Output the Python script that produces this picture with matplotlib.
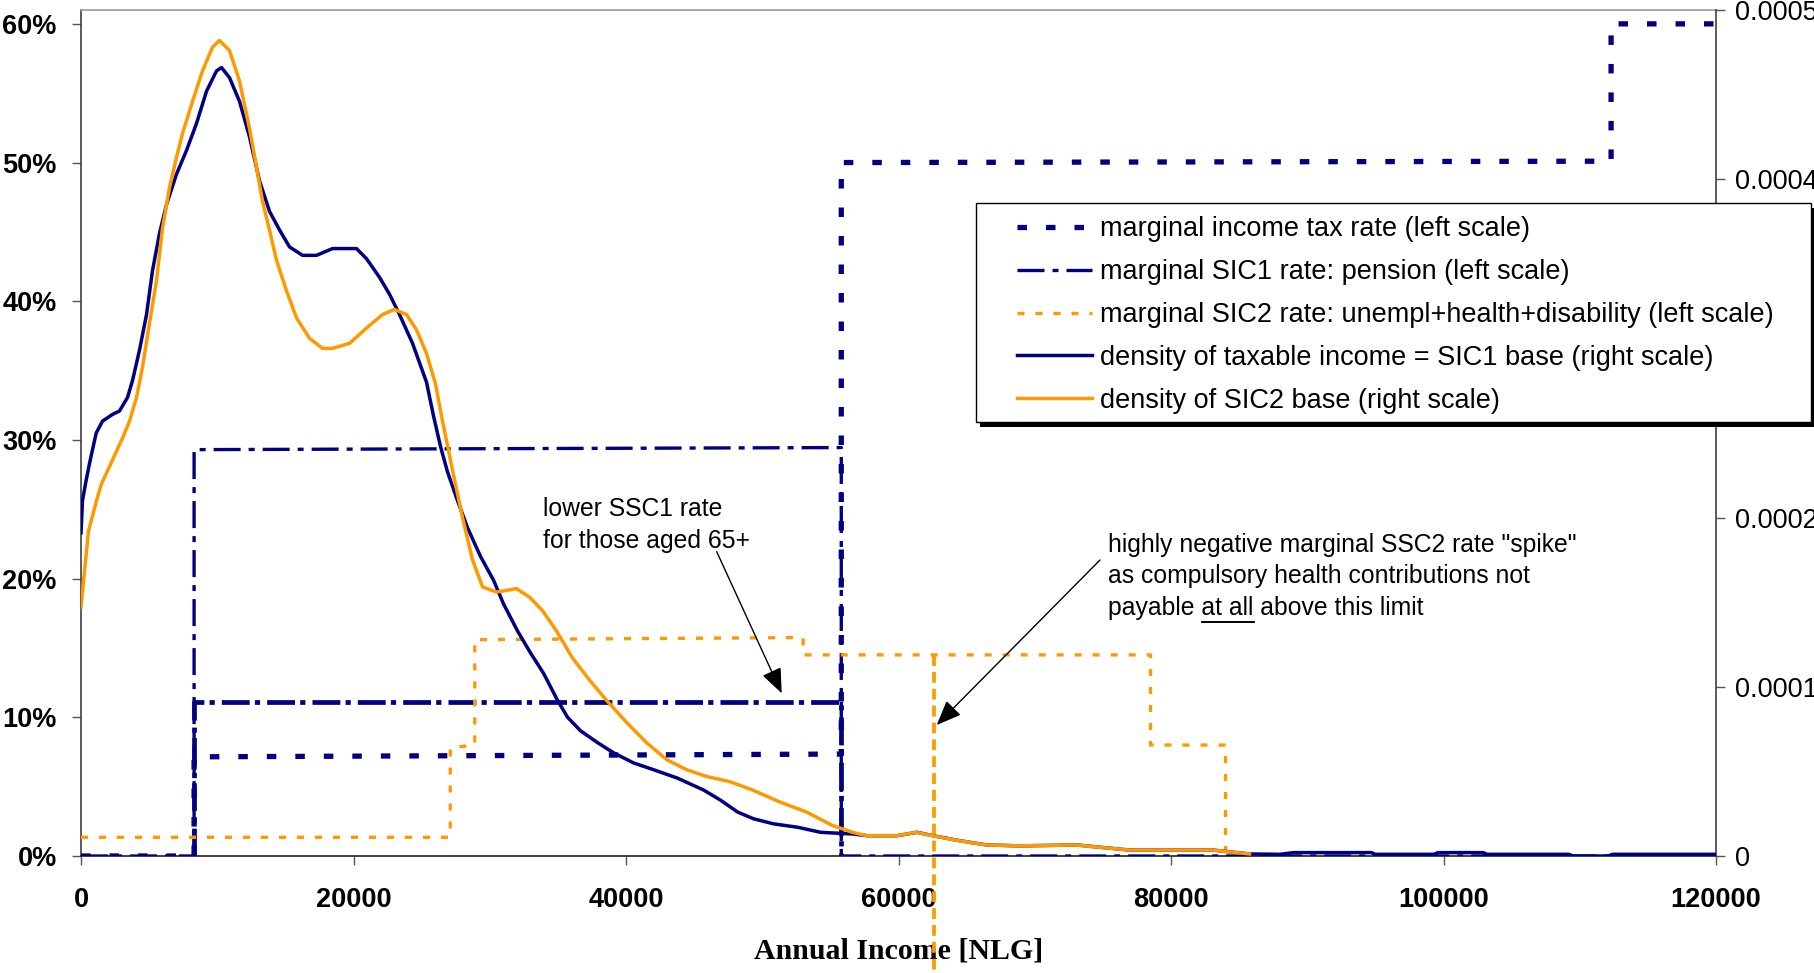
import numpy as np
import matplotlib
matplotlib.use("Agg")
import matplotlib.pyplot as plt
from matplotlib.patches import Rectangle
from matplotlib.lines import Line2D
from matplotlib.ticker import FuncFormatter

plt.rcParams['font.family'] = ['Liberation Sans', 'DejaVu Sans']

# ---------------- data ----------------
# marginal rates (left scale, %)
tax_x = [0, 8300, 8300, 55800, 55800, 112300, 112300, 120000]
tax_y = [0, 0, 7.15, 7.35, 50.0, 50.1, 60.0, 60.0]

sic1_x = [0, 8300, 8300, 55800, 55800, 120000]
sic1_y = [0, 0, 29.3, 29.45, 0, 0]

sic1_65_x = [8300, 8300, 55800, 55800]
sic1_65_y = [0, 11.1, 11.1, 0]

sic2_x = [0, 27100, 27100, 28900, 28900, 53000, 53000, 62640, 62640, 62640,
          78500, 78500, 84000, 84000]
sic2_y = [1.35, 1.35, 7.8, 8.0, 15.6, 15.75, 14.5, 14.5, -100, 14.5,
          14.5, 8.0, 8.0, 0]

# densities (right scale, in units of 1e-4)
dens1_x = [0, 110, 330, 624, 1115, 1578, 2312, 2826, 3413, 3780, 4294, 4808,
           5248, 5762, 6276, 7010, 7744, 8478, 9212, 9946, 10313, 10900, 11634,
           12368, 13102, 13836, 14570, 15304, 16258, 17286, 18460, 19488, 20222,
           20956, 21910, 22644, 23378, 24332, 25360, 25874, 26388, 26901, 27635,
           28369, 29323, 30277, 31011, 32039, 32993, 33947, 34975, 35709, 36663,
           37911, 39085, 40553, 42021, 43783, 45691, 46939, 48187, 49361, 50829,
           52590, 54279, 56663, 57691, 59893, 61361, 62535, 64517, 66499, 68921,
           73105, 75013, 76995, 83087, 84335, 85803, 88000, 89000, 94700, 95000,
           99300, 99600, 102900, 103200, 109200, 109500, 112100, 112400, 120000]
dens1_y = [1.91, 2.10, 2.20, 2.32, 2.50, 2.57, 2.61, 2.63, 2.71, 2.81, 2.99, 3.20,
           3.46, 3.68, 3.85, 4.03, 4.17, 4.33, 4.52, 4.64, 4.66, 4.60, 4.46,
           4.25, 3.99, 3.81, 3.70, 3.60, 3.55, 3.55, 3.59, 3.59, 3.59,
           3.53, 3.42, 3.32, 3.20, 3.03, 2.80, 2.60, 2.42, 2.27, 2.10,
           1.94, 1.77, 1.63, 1.49, 1.33, 1.20, 1.08, 0.92, 0.82, 0.74,
           0.67, 0.61, 0.55, 0.51, 0.46, 0.39, 0.33, 0.26, 0.22, 0.19,
           0.17, 0.14, 0.13, 0.12, 0.12, 0.14, 0.12, 0.09, 0.065, 0.06,
           0.065, 0.05, 0.035, 0.035, 0.024, 0.012, 0.01, 0.02, 0.02, 0.01,
           0.01, 0.02, 0.02, 0.01, 0.01, 0.0, 0.0, 0.01, 0.01]

dens2_x = [0, 550, 1138, 1505, 2312, 3046, 3560, 4074, 4514, 5028, 5542, 5982,
           6496, 7010, 7450, 8184, 8918, 9652, 10166, 10900, 11634, 12368, 12882,
           13322, 13836, 14350, 15084, 15818, 16772, 17726, 18460, 19708, 20956,
           22130, 23011, 23892, 24626, 25360, 26020, 26534, 27268, 28002, 28736,
           29470, 30497, 31965, 32919, 33873, 34901, 36075, 37323, 38571, 40039,
           41507, 42975, 44443, 45911, 47599, 49287, 51269, 53251, 55160, 56627,
           57655, 59857, 61325, 62499, 64481, 66463, 68885, 73069, 74977, 76959,
           83051, 84299, 85767]
dens2_y = [1.47, 1.92, 2.10, 2.20, 2.34, 2.47, 2.57, 2.71, 2.89, 3.15, 3.40, 3.71,
           3.95, 4.13, 4.27, 4.46, 4.64, 4.78, 4.82, 4.76, 4.58, 4.30, 4.07,
           3.87, 3.70, 3.52, 3.34, 3.18, 3.06, 3.00, 3.00, 3.03, 3.12,
           3.20, 3.23, 3.20, 3.11, 2.97, 2.79, 2.57, 2.28, 2.00, 1.75,
           1.59, 1.56, 1.58, 1.53, 1.45, 1.33, 1.17, 1.04, 0.92, 0.79,
           0.67, 0.57, 0.51, 0.47, 0.44, 0.39, 0.32, 0.26, 0.18, 0.14,
           0.12, 0.12, 0.14, 0.12, 0.09, 0.065, 0.06, 0.065, 0.05, 0.035,
           0.035, 0.024, 0.012]

x_ticks = [0, 20000, 40000, 60000, 80000, 100000, 120000]
left_ticks = [0, 10, 20, 30, 40, 50, 60]
right_ticks = [0, 0.0001, 0.0002, 0.0003, 0.0004, 0.0005]
right_labels = ['0', '0.0001', '0.0002', '0.0003', '0.0004', '0.0005']

labels = ['marginal income tax rate (left scale)',
          'marginal SIC1 rate: pension (left scale)',
          'marginal SIC2 rate: unempl+health+disability (left scale)',
          'density of taxable income = SIC1 base (right scale)',
          'density of SIC2 base (right scale)']

# ---------------- style ----------------
NAVY = '#000080'
ORANGE = '#FF9900'
W, H = 1814, 973
tax_ls = (0, (1.8, 3.6))
sic1_ls = (0, (8.1, 2.4, 1.8, 2.4))
sic1b_ls = (0, (5.9, 1.1, 1.1, 1.5))
sic2_ls = (0, (2.1, 3.3))
spike_ls = (0, (2.9, 1.6))

fig = plt.figure(figsize=(W / 100, H / 100), dpi=100)
ax_l, ax_r, ax_t, ax_b = 81, 1716, 10, 856
ax = fig.add_axes([ax_l / W, 1 - ax_b / H, (ax_r - ax_l) / W, (ax_b - ax_t) / H])
ax2 = ax.twinx()

ax.set_xlim(0, 120000)
ax.set_ylim(0, 61.0)
ax2.set_ylim(0, 0.0005)

ax.plot(tax_x, tax_y, color=NAVY, lw=3.8, ls=tax_ls, zorder=3)
ax.plot(sic1_x, sic1_y, color=NAVY, lw=2.4, ls=sic1_ls, zorder=3)
ax.plot(sic1_65_x, sic1_65_y, color=NAVY, lw=3.4, ls=sic1b_ls, zorder=3)

# SIC2: the step line, with the negative "spike" drawn as its own segment
k = int(np.argmin(sic2_y))
main_x = sic2_x[:k] + sic2_x[k + 1:]
main_y = sic2_y[:k] + sic2_y[k + 1:]
ax.plot(main_x, main_y, color=ORANGE, lw=2.4, ls=sic2_ls, zorder=3)
ax.plot(sic2_x[k - 1:k + 1], sic2_y[k - 1:k + 1], color=ORANGE, lw=2.7,
        ls=spike_ls, zorder=3, clip_on=False)

ax2.plot(dens1_x, np.array(dens1_y) * 1e-4, color=NAVY, lw=2.5, zorder=3)
ax2.plot(dens2_x, np.array(dens2_y) * 1e-4, color=ORANGE, lw=2.5, zorder=3)

# ticks
ax.set_xticks(x_ticks)
ax.set_xticklabels([str(v) for v in x_ticks])
ax.set_yticks(left_ticks)
ax.yaxis.set_major_formatter(FuncFormatter(lambda v, p: f"{v:.0f}%"))
ax2.set_yticks(right_ticks)
ax2.set_yticklabels(right_labels)

ax.tick_params(axis='x', direction='out', length=6.5, width=1, color='#555555',
               labelsize=19.5, pad=16)
ax.tick_params(axis='y', direction='out', length=6.5, width=1, color='#555555',
               labelsize=19.5, pad=11)
ax2.tick_params(axis='y', direction='out', length=6.5, width=1, color='#555555',
                labelsize=19.5, pad=7)
for t in ax.get_xticklabels() + ax.get_yticklabels():
    t.set_fontweight('bold')

for s in ['left', 'top', 'bottom', 'right']:
    ax2.spines[s].set_visible(False)
ax.spines['right'].set_visible(False)
ax2.spines['right'].set_visible(True)
ax2.spines['right'].set_color('#404040')
ax.spines['left'].set_color('#404040')
ax.spines['bottom'].set_color('#202020')
ax.spines['top'].set_color('#999999')
for s in ax.spines.values():
    s.set_linewidth(1.2)
ax2.spines['right'].set_linewidth(1.2)

# x label
ax.set_xlabel('Annual Income [NLG]', family='Liberation Serif', fontweight='bold',
              fontsize=21.5)
ax.xaxis.set_label_coords(0.5, (ax_b - 958) / (ax_b - ax_t))
ax.xaxis.label.set_verticalalignment('baseline')

# annotations
def px2data(px, py):
    return ((px - ax_l) / (ax_r - ax_l) * 120000, (ax_b - py) / (ax_b - ax_t) * 61.0)

ann_fs = 17.8
for txt, (px, py) in [('lower SSC1 rate', (543.3, 516)),
                      ('for those aged 65+', (543.3, 547.7)),
                      ('highly negative marginal SSC2 rate "spike"', (1108.3, 551.7)),
                      ('as compulsory health contributions not', (1108.3, 583.5))]:
    ax.text(*px2data(px, py), txt, fontsize=ann_fs, va='baseline', ha='left')
line3 = ax.text(*px2data(1108.3, 615.3), 'payable at all above this limit',
                fontsize=ann_fs, va='baseline', ha='left')

arrow_kw = dict(arrowstyle='-|>,head_length=1.1,head_width=0.45', color='black',
                lw=1.0, mutation_scale=14, shrinkA=0, shrinkB=0)
ax.annotate('', xy=px2data(781.7, 693.3), xytext=px2data(716.7, 551.7),
            arrowprops=arrow_kw)
ax.annotate('', xy=px2data(936.7, 725), xytext=px2data(1100, 560),
            arrowprops=arrow_kw)

# legend frame + shadow
lg_x0, lg_y0, lg_x1, lg_y1 = 976.4, 203.3, 1811, 421.7
fig.patches.append(Rectangle(((lg_x0 + 4) / W, 1 - (lg_y1 + 5) / H),
                             (lg_x1 - lg_x0) / W, (lg_y1 - lg_y0) / H,
                             transform=fig.transFigure, facecolor='black',
                             edgecolor='none', zorder=3))
fig.patches.append(Rectangle((lg_x0 / W, 1 - lg_y1 / H),
                             (lg_x1 - lg_x0) / W, (lg_y1 - lg_y0) / H,
                             transform=fig.transFigure, facecolor='white',
                             edgecolor='black', lw=1.0, zorder=3.5))
handles = [Line2D([], [], color=NAVY, lw=3.8, ls=tax_ls),
           Line2D([], [], color=NAVY, lw=2.4, ls=sic1_ls),
           Line2D([], [], color=ORANGE, lw=2.4, ls=sic2_ls),
           Line2D([], [], color=NAVY, lw=2.5),
           Line2D([], [], color=ORANGE, lw=2.5)]
fig.legend(handles, labels, loc='upper left',
           bbox_to_anchor=(1016.6 / W, 1 - 216.5 / H), bbox_transform=fig.transFigure,
           frameon=False, fontsize=19.5, handlelength=2.8, handletextpad=0.28,
           labelspacing=0.62, borderpad=0, borderaxespad=0)

# underline "at all"
fig.canvas.draw()
r = fig.canvas.get_renderer()
def text_w(s):
    t = ax.text(0, 0, s, fontsize=ann_fs)
    w = t.get_window_extent(r).width
    t.remove()
    return w
bb = line3.get_window_extent(r)
w_full = text_w('payable at all')
w_at = text_w('at all')
x_start = bb.x0 + (w_full - w_at)
y_line = (H - 621.5)
fig.add_artist(Line2D([x_start / W, (x_start + w_at) / W], [y_line / H, y_line / H],
                      transform=fig.transFigure, color='black', lw=1.4))

fig.savefig('out.png', dpi=100)
